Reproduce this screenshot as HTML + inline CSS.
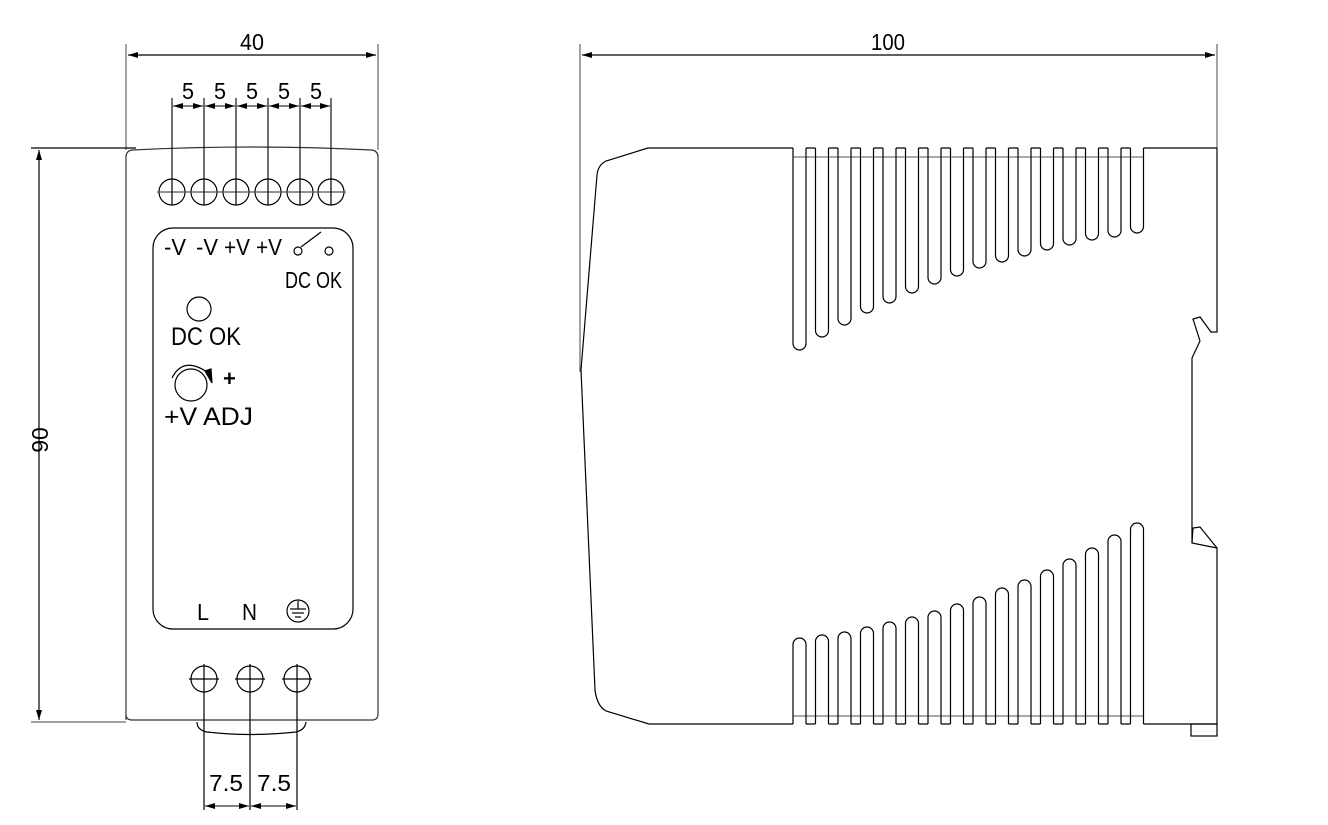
<!DOCTYPE html>
<html><head><meta charset="utf-8"><style>
html,body{margin:0;padding:0;background:#fff;}
svg{display:block;}
text{font-family:"Liberation Sans Narrow","Liberation Sans",sans-serif;fill:#000;}
</style></head><body>
<svg width="1328" height="825" viewBox="0 0 1328 825" xmlns="http://www.w3.org/2000/svg">
<defs>
<marker id="a" viewBox="0 0 10 6" refX="10" refY="3" markerWidth="10" markerHeight="6" orient="auto-start-reverse" markerUnits="userSpaceOnUse"><path d="M0,0 L10,3 L0,6 z" fill="#000"/></marker>
</defs>
<g fill="none" stroke="#000" stroke-width="1.2">
<line x1="126" y1="44" x2="126" y2="150" stroke="#666"/>
<line x1="378" y1="44" x2="378" y2="150" stroke="#666"/>
<line x1="128" y1="55" x2="376" y2="55" marker-start="url(#a)" marker-end="url(#a)"/>
<line x1="31" y1="148" x2="136" y2="148"/>
<line x1="31" y1="722" x2="126" y2="722" stroke="#666"/>
<line x1="39" y1="150" x2="39" y2="720" marker-start="url(#a)" marker-end="url(#a)"/>
<path d="M126,720 V157 Q126,151 132,150 Q252,144 372,150 Q378,151 378,157 V714 Q378,720 372,720 H132 Q126,720 126,714 Z" stroke="#333"/>
<path d="M197,722 Q197,730 207,732 Q250,737 296,732 Q305,730 306,722"/>
<g stroke="#111">
<line x1="172" y1="98" x2="172" y2="180"/>
<line x1="204" y1="98" x2="204" y2="180"/>
<line x1="236" y1="98" x2="236" y2="180"/>
<line x1="268" y1="98" x2="268" y2="180"/>
<line x1="300" y1="98" x2="300" y2="180"/>
<line x1="331" y1="98" x2="331" y2="180"/>
</g>
<g stroke-width="1">
<line x1="173" y1="106" x2="203" y2="106" marker-start="url(#a)" marker-end="url(#a)"/>
<line x1="205" y1="106" x2="235" y2="106" marker-start="url(#a)" marker-end="url(#a)"/>
<line x1="237" y1="106" x2="267" y2="106" marker-start="url(#a)" marker-end="url(#a)"/>
<line x1="269" y1="106" x2="299" y2="106" marker-start="url(#a)" marker-end="url(#a)"/>
<line x1="301" y1="106" x2="330" y2="106" marker-start="url(#a)" marker-end="url(#a)"/>
</g>
<g>
<circle cx="172" cy="192" r="13"/><circle cx="204" cy="192" r="13"/><circle cx="236" cy="192" r="13"/>
<circle cx="268" cy="192" r="13"/><circle cx="300" cy="192" r="13"/><circle cx="331" cy="192" r="13"/>
<line x1="157" y1="192" x2="346" y2="192" stroke="#555"/>
<line x1="172" y1="180" x2="172" y2="205"/><line x1="204" y1="180" x2="204" y2="205"/>
<line x1="236" y1="180" x2="236" y2="205"/><line x1="268" y1="180" x2="268" y2="205"/>
<line x1="300" y1="180" x2="300" y2="205"/><line x1="331" y1="180" x2="331" y2="205"/>
</g>
<rect x="153" y="228" width="200" height="401" rx="20" ry="20"/>
<circle cx="298" cy="251" r="4"/><circle cx="329" cy="251" r="4"/>
<line x1="301" y1="247" x2="321" y2="232"/>
<circle cx="199" cy="309" r="12"/>
<circle cx="191" cy="385" r="16"/>
<path d="M172,378 Q183,356 207,372"/>
<path d="M205,371 L212,383 L211,369 z" fill="#000"/>
<circle cx="298" cy="611" r="11"/>
<line x1="298" y1="601" x2="298" y2="609"/>
<line x1="290" y1="609" x2="306" y2="609"/>
<line x1="292" y1="613" x2="304" y2="613"/>
<line x1="295" y1="617" x2="301" y2="617"/>
<circle cx="204" cy="679" r="13"/><circle cx="250" cy="679" r="13"/><circle cx="297" cy="679" r="13"/>
<line x1="189" y1="679" x2="219" y2="679"/><line x1="235" y1="679" x2="265" y2="679"/><line x1="282" y1="679" x2="312" y2="679"/>
<line x1="204" y1="664" x2="204" y2="810"/><line x1="250" y1="664" x2="250" y2="810"/><line x1="297" y1="664" x2="297" y2="810"/>
<line x1="205" y1="806" x2="249" y2="806" stroke-width="1" marker-start="url(#a)" marker-end="url(#a)"/>
<line x1="251" y1="806" x2="296" y2="806" stroke-width="1" marker-start="url(#a)" marker-end="url(#a)"/>

<line x1="580" y1="44" x2="580" y2="372" stroke="#666"/>
<line x1="1217" y1="44" x2="1217" y2="148" stroke="#666"/>
<line x1="582" y1="55" x2="1215" y2="55" marker-start="url(#a)" marker-end="url(#a)"/>
<path d="M648,148 L606,161 Q598,165 597,175 L581,370 L595,690 Q597,706 606,711 L649,724 H793"/>
<path d="M648,148 H793 M806,148 H815.5 M828.5,148 H838 M851,148 H860.5 M873.5,148 H883 M896,148 H905.5 M918.5,148 H928 M941,148 H950.5 M963.5,148 H973 M986,148 H995.5 M1008.5,148 H1018 M1031,148 H1040.5 M1053.5,148 H1063 M1076,148 H1085.5 M1098.5,148 H1108 M1121,148 H1130.5 M1143.5,148 H1217"/>
<line x1="793" y1="157" x2="1143.5" y2="157" stroke="#777"/>
<path d="M793,148 V343.5 A6.5,6.5 0 0 0 806,343.5 V148
M815.5,148 V330.5 A6.5,6.5 0 0 0 828.5,330.5 V148
M838,148 V318.5 A6.5,6.5 0 0 0 851,318.5 V148
M860.5,148 V306.5 A6.5,6.5 0 0 0 873.5,306.5 V148
M883,148 V296.5 A6.5,6.5 0 0 0 896,296.5 V148
M905.5,148 V286.5 A6.5,6.5 0 0 0 918.5,286.5 V148
M928,148 V277.5 A6.5,6.5 0 0 0 941,277.5 V148
M950.5,148 V269.5 A6.5,6.5 0 0 0 963.5,269.5 V148
M973,148 V261.5 A6.5,6.5 0 0 0 986,261.5 V148
M995.5,148 V255.5 A6.5,6.5 0 0 0 1008.5,255.5 V148
M1018,148 V249.5 A6.5,6.5 0 0 0 1031,249.5 V148
M1040.5,148 V243.5 A6.5,6.5 0 0 0 1053.5,243.5 V148
M1063,148 V238.5 A6.5,6.5 0 0 0 1076,238.5 V148
M1085.5,148 V233.5 A6.5,6.5 0 0 0 1098.5,233.5 V148
M1108,148 V230.5 A6.5,6.5 0 0 0 1121,230.5 V148
M1130.5,148 V226.5 A6.5,6.5 0 0 0 1143.5,226.5 V148"/>
<path d="M806,724 H815.5 M828.5,724 H838 M851,724 H860.5 M873.5,724 H883 M896,724 H905.5 M918.5,724 H928 M941,724 H950.5 M963.5,724 H973 M986,724 H995.5 M1008.5,724 H1018 M1031,724 H1040.5 M1053.5,724 H1063 M1076,724 H1085.5 M1098.5,724 H1108 M1121,724 H1130.5 M1143.5,724 H1217"/>
<line x1="793" y1="716" x2="1143.5" y2="716" stroke="#777"/>
<path d="M793,724 V644.5 A6.5,6.5 0 0 1 806,644.5 V724
M815.5,724 V641.5 A6.5,6.5 0 0 1 828.5,641.5 V724
M838,724 V638.5 A6.5,6.5 0 0 1 851,638.5 V724
M860.5,724 V633.5 A6.5,6.5 0 0 1 873.5,633.5 V724
M883,724 V628.5 A6.5,6.5 0 0 1 896,628.5 V724
M905.5,724 V623.5 A6.5,6.5 0 0 1 918.5,623.5 V724
M928,724 V617.5 A6.5,6.5 0 0 1 941,617.5 V724
M950.5,724 V610.5 A6.5,6.5 0 0 1 963.5,610.5 V724
M973,724 V603.5 A6.5,6.5 0 0 1 986,603.5 V724
M995.5,724 V594.5 A6.5,6.5 0 0 1 1008.5,594.5 V724
M1018,724 V586.5 A6.5,6.5 0 0 1 1031,586.5 V724
M1040.5,724 V576.5 A6.5,6.5 0 0 1 1053.5,576.5 V724
M1063,724 V565.5 A6.5,6.5 0 0 1 1076,565.5 V724
M1085.5,724 V554.5 A6.5,6.5 0 0 1 1098.5,554.5 V724
M1108,724 V541.5 A6.5,6.5 0 0 1 1121,541.5 V724
M1130.5,724 V529.5 A6.5,6.5 0 0 1 1143.5,529.5 V724"/>
<path d="M1217,148 V332 H1211 L1200,317 L1193,319 L1200,341 L1192,358 V543 L1217,548 V724"/>
<path d="M1192,543 L1193,528 L1200,527 L1217,548"/>
<rect x="1191" y="724" width="26" height="12"/>
</g>
<g font-size="23" lengthAdjust="spacingAndGlyphs">
<text x="240" y="50" textLength="24" lengthAdjust="spacingAndGlyphs">40</text>
<text x="871" y="50" textLength="34" lengthAdjust="spacingAndGlyphs">100</text>
<text x="0" y="0" text-anchor="middle" transform="translate(48,440) rotate(-90)">90</text>
<text x="182" y="99" textLength="12" lengthAdjust="spacingAndGlyphs">5</text>
<text x="214" y="99" textLength="12" lengthAdjust="spacingAndGlyphs">5</text>
<text x="246" y="99" textLength="12" lengthAdjust="spacingAndGlyphs">5</text>
<text x="278" y="99" textLength="12" lengthAdjust="spacingAndGlyphs">5</text>
<text x="310" y="99" textLength="12" lengthAdjust="spacingAndGlyphs">5</text>
<text x="164" y="255" textLength="22" lengthAdjust="spacingAndGlyphs">-V</text>
<text x="196" y="255" textLength="22" lengthAdjust="spacingAndGlyphs">-V</text>
<text x="224" y="255" textLength="26" lengthAdjust="spacingAndGlyphs">+V</text>
<text x="256" y="255" textLength="26" lengthAdjust="spacingAndGlyphs">+V</text>
<text x="285" y="288" textLength="57" lengthAdjust="spacingAndGlyphs">DC OK</text>
<text x="171" y="345" font-size="25" textLength="70" lengthAdjust="spacingAndGlyphs">DC OK</text>
<text x="164" y="425" font-size="25" textLength="89" lengthAdjust="spacingAndGlyphs">+V ADJ</text>
<text x="223" y="386" font-weight="bold" font-size="22">+</text>
<text x="197" y="620" textLength="12" lengthAdjust="spacingAndGlyphs">L</text>
<text x="242" y="620" textLength="15" lengthAdjust="spacingAndGlyphs">N</text>
<text x="209" y="791" textLength="34" lengthAdjust="spacingAndGlyphs">7.5</text>
<text x="257" y="791" textLength="34" lengthAdjust="spacingAndGlyphs">7.5</text>
</g>
</svg>
</body></html>
